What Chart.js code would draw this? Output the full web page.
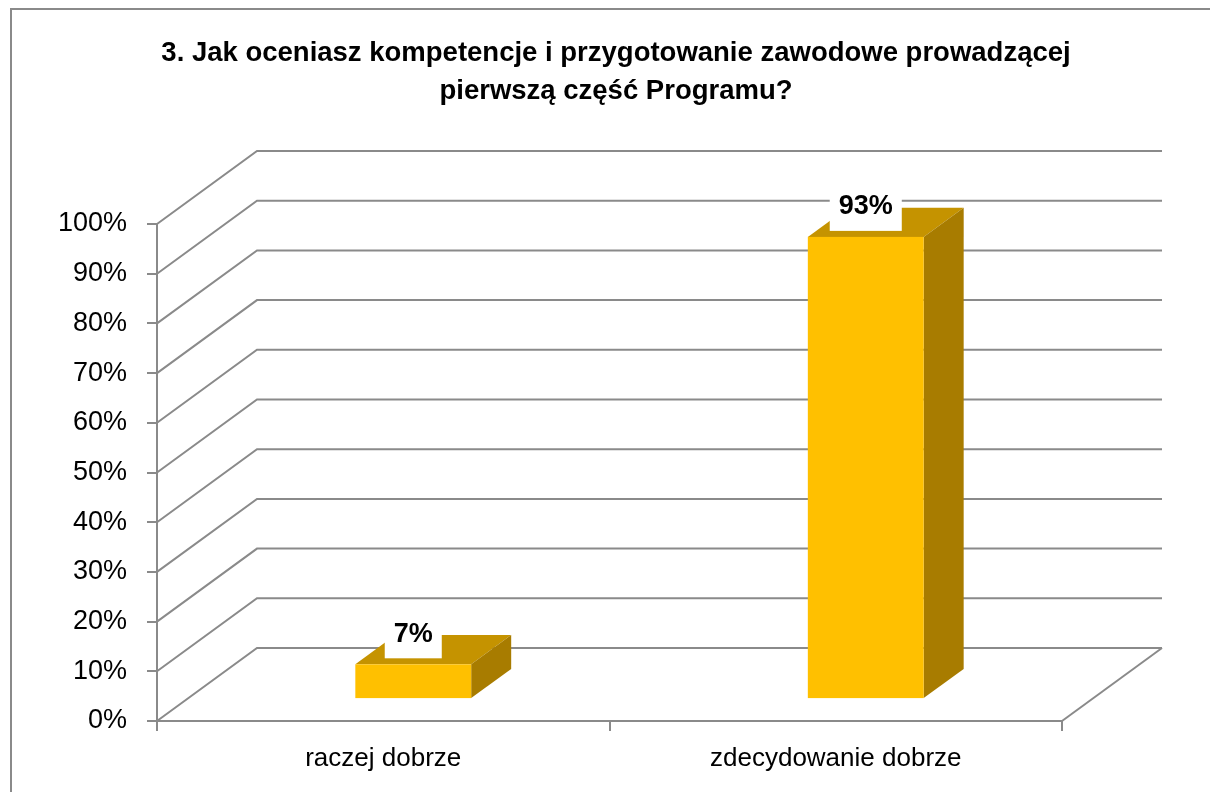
<!DOCTYPE html>
<html>
<head>
<meta charset="utf-8">
<script src="https://cdn.jsdelivr.net/npm/chart.js@4.4.1/dist/chart.umd.min.js"></script>
<style>
  html, body { margin: 0; padding: 0; background: #fff; }
  #wrap { width: 1210px; height: 792px; position: relative; }
</style>
</head>
<body>
<div id="wrap"><canvas id="myChart"></canvas></div>
<script>
const categories = ['raczej dobrze', 'zdecydowanie dobrze'];
const values = [7, 93];
const title = ['3. Jak oceniasz kompetencje i przygotowanie zawodowe prowadzącej', 'pierwszą część Programu?'];

const gridColor = '#8a8a8a';
const depth = { x: 100, y: -73 };   // floor depth vector of the 3D box
const barDepth = [0.3, 0.7];        // bars sit in the middle of the floor

const threeD = {
    id: 'threeD',
    beforeDraw(chart) {
        const ctx = chart.ctx;
        ctx.save();
        ctx.strokeStyle = gridColor;
        ctx.lineWidth = 2;
        ctx.strokeRect(11, 9, 1400, 1000);
        ctx.restore();
    },
    beforeDatasetsDraw(chart) {
        const { ctx, chartArea: a, scales: { y } } = chart;
        ctx.save();
        ctx.strokeStyle = gridColor;
        ctx.lineWidth = 2;
        y.ticks.forEach(t => {
            const py = y.getPixelForValue(t.value);
            ctx.beginPath();
            ctx.moveTo(a.left, py);
            ctx.lineTo(a.left + depth.x, py + depth.y);
            ctx.lineTo(a.right + depth.x, py + depth.y);
            ctx.stroke();
        });
        const by = y.getPixelForValue(0);
        ctx.beginPath();
        ctx.moveTo(a.right, by);
        ctx.lineTo(a.right + depth.x, by + depth.y);
        ctx.stroke();
        ctx.restore();
    },
    afterDatasetsDraw(chart) {
        const ctx = chart.ctx;
        const meta = chart.getDatasetMeta(0);
        const dx = depth.x * (barDepth[1] - barDepth[0]);
        const dy = depth.y * (barDepth[1] - barDepth[0]);
        ctx.save();
        meta.data.forEach((bar, i) => {
            const ox = depth.x * barDepth[0], oy = depth.y * barDepth[0];
            const x0 = bar.x - bar.width / 2 + ox, x1 = bar.x + bar.width / 2 + ox;
            const yt = bar.y + oy, yb = bar.base + oy;
            // top
            ctx.fillStyle = '#c59300';
            ctx.beginPath();
            ctx.moveTo(x0, yt); ctx.lineTo(x1, yt); ctx.lineTo(x1 + dx, yt + dy); ctx.lineTo(x0 + dx, yt + dy);
            ctx.closePath(); ctx.fill();
            // side
            ctx.fillStyle = '#a87c00';
            ctx.beginPath();
            ctx.moveTo(x1, yt); ctx.lineTo(x1 + dx, yt + dy); ctx.lineTo(x1 + dx, yb + dy); ctx.lineTo(x1, yb);
            ctx.closePath(); ctx.fill();
            // front
            ctx.fillStyle = '#ffc000';
            ctx.fillRect(x0, yt, x1 - x0, yb - yt);

            // value label
            const label = values[i] + '%';
            ctx.font = 'bold 27px "Liberation Sans", Arial, sans-serif';
            const w = ctx.measureText(label).width;
            const cx = (x0 + x1) / 2, cy = yt - 30;
            ctx.fillStyle = '#fff';
            ctx.fillRect(cx - w / 2 - 9, cy - 28, w + 18, 52);
            ctx.fillStyle = '#000';
            ctx.textAlign = 'center';
            ctx.textBaseline = 'middle';
            ctx.fillText(label, cx, cy);
        });
        ctx.restore();
    }
};

const ctx = document.getElementById('myChart');
const myChart = new Chart(ctx, {
    type: 'bar',
    data: {
        labels: categories,
        datasets: [{
            data: values,
            backgroundColor: 'rgba(0,0,0,0)',
            borderWidth: 0,
            categoryPercentage: 1,
            barPercentage: 0.256,
        }]
    },
    options: {
        responsive: true,
        maintainAspectRatio: false,
        animation: false,
        events: [],
        layout: { padding: { left: 22, right: 0, top: 0, bottom: 0 } },
        plugins: {
            legend: { display: false },
            tooltip: { enabled: false },
            title: {
                display: true,
                text: title,
                color: '#000',
                font: { family: '"Liberation Sans", Arial, sans-serif', size: 27.5, weight: 'bold', lineHeight: 1.4 },
                padding: { top: 34, bottom: 113 },
            },
        },
        scales: {
            x: {
                afterFit: scale => { scale.height = 71; },
                border: { display: true, color: gridColor, width: 2 },
                grid: { display: true, offset: true, drawOnChartArea: false, drawTicks: true, tickLength: 10, color: gridColor, lineWidth: 2 },
                ticks: { color: '#000', padding: 12, font: { family: '"Liberation Sans", Arial, sans-serif', size: 26 } },
            },
            y: {
                min: 0,
                max: 100,
                afterFit: scale => { scale.width = 135; },
                border: { display: true, color: gridColor, width: 2 },
                grid: { display: true, drawOnChartArea: false, drawTicks: true, tickLength: 10, color: gridColor, lineWidth: 2 },
                ticks: {
                    stepSize: 10,
                    padding: 20,
                    color: '#000',
                    font: { family: '"Liberation Sans", Arial, sans-serif', size: 27 },
                    callback: v => v + '%',
                },
            },
            // empty right-hand space so the title centres like the original
            right: {
                position: 'right',
                afterFit: scale => { scale.width = 148; },
                border: { display: false },
                grid: { display: false },
                ticks: { display: false },
            },
        },
    },
    plugins: [threeD],
});
</script>
</body>
</html>
